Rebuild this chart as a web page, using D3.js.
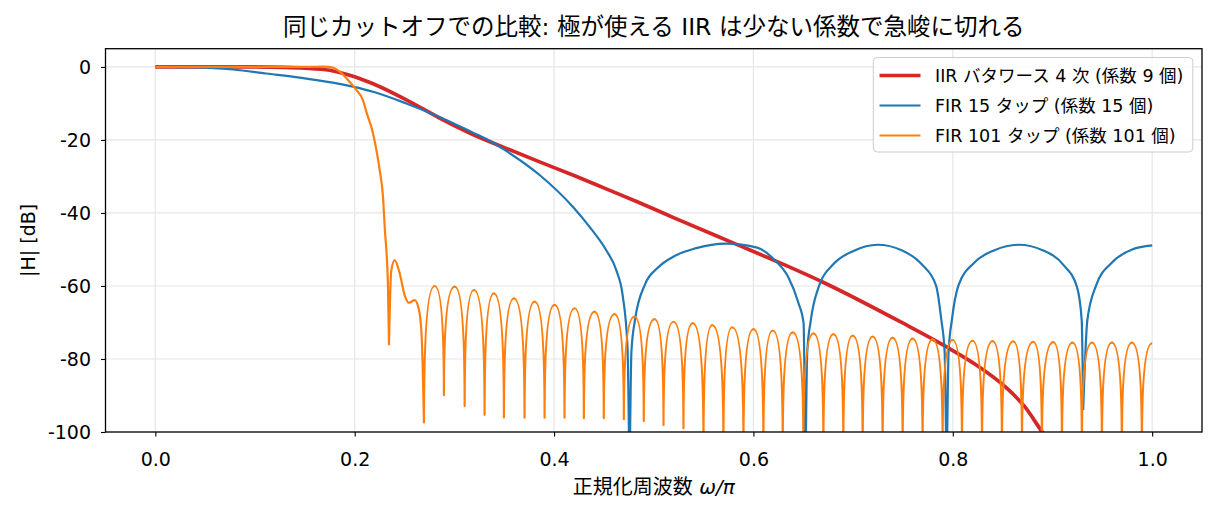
<!DOCTYPE html>
<html>
<head>
<meta charset="utf-8">
<script src="https://cdn.jsdelivr.net/npm/d3@7"></script>
<style>
    body { margin: 0; background: #fff; }
    svg text { font-family: "DejaVu Sans", "Noto Sans CJK JP", sans-serif; fill: #000; }
</style>
</head>
<body>
<svg id="chart" width="1217" height="512"></svg>
<script>
// values (x = omega/pi, y = dB)
const xTicks = [0, 0.2, 0.4, 0.6, 0.8, 1.0];
const yTicks = [0, -20, -40, -60, -80, -100];

// IIR butterworth, 4th order
const iirX  = [0, 0.05, 0.1, 0.13, 0.15, 0.175, 0.185, 0.2, 0.212, 0.2184, 0.2518, 0.2852, 0.3186, 0.352, 0.3855, 0.4188, 0.4523, 0.4857, 0.521, 0.5795, 0.6244, 0.6693, 0.7487, 0.7938, 0.8199, 0.8533, 0.872, 0.8884, 0.9];
const iirDb = [0, 0, 0, -0.1, -0.3, -0.9, -1.5, -2.7, -3.9, -4.6, -9.0, -14.0, -18.5, -22.3, -26.0, -29.6, -33.4, -37.2, -41.4, -48.2, -53.4, -58.9, -70.0, -76.7, -81.0, -87.8, -93.0, -99.5, -104];

// FIR 15 taps (nulls split the curve)
const fir15X  = [0, 0.045, 0.078, 0.1115, 0.145, 0.178, 0.198, 0.2184, 0.2518, 0.2852, 0.3186, 0.3353, 0.352, 0.3855, 0.4188, 0.4356, 0.4523, 0.4623, 0.469, 0.4737, 0.4757,
                 0.4776, 0.4812, 0.4915, 0.5037, 0.5209, 0.5416, 0.5726, 0.6037, 0.621, 0.6348, 0.6451, 0.6503, 0.6521,
                 0.654, 0.6576, 0.6659, 0.6796, 0.7004, 0.7245, 0.7487, 0.7693, 0.7832, 0.7885, 0.7918, 0.7938,
                 0.7958, 0.7991, 0.8056, 0.8212, 0.8418, 0.866, 0.8901, 0.9109, 0.9246, 0.9293, 0.9308,
                 0.935, 0.9437, 0.9592, 0.9799, 1.0];
const fir15Db = [0, -0.1, -0.7, -1.8, -2.9, -4.3, -5.4, -6.8, -10.0, -13.7, -18.0, -20.2, -23.0, -29.6, -38.3, -43.8, -50.2, -55.6, -62.9, -77, -115,
                 -78, -69.3, -59.4, -55.1, -51.8, -49.7, -48.4, -49.5, -52.8, -57.5, -64.6, -70.2, -115,
                 -78, -69.3, -59.9, -54.2, -50.4, -48.7, -50.2, -54.2, -59.9, -69.3, -78, -115,
                 -78, -69.3, -59.9, -53.7, -50.2, -48.7, -50.2, -54.2, -60.3, -69.3, -94,
                 -69.3, -59.9, -53.7, -50.0, -48.9];
const fir15Nulls = [0.4757, 0.6521, 0.7938, 0.9308];

// FIR 101 taps: passband + transition, first odd sidelobe, then regular sidelobes
const fir101StartX  = [0, 0.05, 0.1, 0.15, 0.17, 0.178, 0.185, 0.195, 0.2017, 0.2083, 0.2117, 0.2184, 0.2218, 0.2251, 0.2284, 0.2301, 0.2334, 0.2344];
const fir101StartDb = [0, 0, 0, 0, 0.1, -0.2, -1.3, -4.1, -6.3, -9.1, -12.3, -18.2, -22.8, -28.3, -35.6, -43.8, -60.2, -76.2];
const fir101Lobe1X  = [0.2344, 0.2366, 0.2401, 0.2451, 0.2501, 0.2544, 0.2601, 0.2645, 0.2672, 0.2695];
const fir101Lobe1Db = [-76.2, -56, -52.9, -56.5, -62.5, -64.6, -63.9, -66.6, -73.9, -97.6];
const fir101NullX  = [0.2695, 0.2895, 0.3103, 0.3303, 0.3497, 0.3704, 0.3905, 0.4105, 0.4299, 0.4499,
                      0.47, 0.49, 0.5098, 0.5298, 0.5499, 0.5699, 0.59, 0.61, 0.6294, 0.6501,
                      0.6702, 0.6902, 0.7096, 0.7296, 0.7497, 0.7697, 0.7898, 0.8092, 0.8293, 0.8493,
                      0.8694, 0.8894, 0.9095, 0.9295, 0.9496, 0.9696, 0.9897];
const fir101NullDb = [-97.6, -89.9, -92.9, -95.3, -96.0, -96.1, -96.1, -96.1, -96.2, -96.2,
                      -96.5, -97.0, -98.1, -99.0, -104, -104, -104, -104, -104, -104,
                      -104, -104, -104, -104, -104, -104, -104, -104, -104, -104,
                      -104, -104, -104, -104, -104, -104, -104];
const fir101PeakX  = [0.2802, 0.3003, 0.3196, 0.3396, 0.3597, 0.3805, 0.4005, 0.4206, 0.4406, 0.4607,
                      0.4807, 0.5008, 0.5198, 0.5391, 0.5586, 0.5786, 0.6, 0.6194, 0.6394, 0.6602,
                      0.6802, 0.6996, 0.7196, 0.7396, 0.7597, 0.7797, 0.7998, 0.8198, 0.8399, 0.8607,
                      0.8807, 0.9008, 0.9201, 0.9396, 0.9596, 0.9797, 1.0];
const fir101PeakDb = [-60.0, -60.2, -61.1, -62.0, -63.4, -64.3, -65.2, -66.1, -67.0, -67.7,
                      -68.4, -69.1, -69.8, -70.2, -70.7, -71.3, -71.8, -72.2, -72.7, -73.0,
                      -73.2, -73.6, -73.9, -74.2, -74.4, -74.6, -74.8, -75.0, -75.1, -75.2,
                      -75.3, -75.4, -75.5, -75.5, -75.5, -75.5, -75.7];

const legendNames = ["IIR バタワース 4 次 (係数 9 個)", "FIR 15 タップ (係数 15 個)", "FIR 101 タップ (係数 101 個)"];
const colors = ["#d62728", "#1f77b4", "#ff7f0e"];
const widths = [3.7, 2.2, 2.2];

const zip = (xs, ys) => xs.map((x, i) => [x, ys[i]]);

// plot box
const plotL = 105.5, plotR = 1202, plotT = 48.7, plotB = 432;
const svg = d3.select("#chart");

const x = d3.scaleLinear().domain([-0.05, 1.05]).range([plotL, plotR]);
const y = d3.scaleLinear().domain([-100, 5]).range([plotB, plotT]);

// clip
svg.append("defs").append("clipPath").attr("id", "plotclip")
    .append("rect").attr("x", plotL).attr("y", plotT).attr("width", plotR - plotL).attr("height", plotB - plotT);

// grid
const grid = svg.append("g");
grid.selectAll(".gx").data(xTicks).join("line")
    .attr("x1", d => x(d)).attr("x2", d => x(d)).attr("y1", plotT).attr("y2", plotB)
    .attr("stroke", "#e6e6e6").attr("stroke-width", 1.2);
grid.selectAll(".gy").data(yTicks).join("line")
    .attr("x1", plotL).attr("x2", plotR).attr("y1", d => y(d)).attr("y2", d => y(d))
    .attr("stroke", "#e6e6e6").attr("stroke-width", 1.2);

// arch curve: the control point takes x of the lower point and y of the higher one,
// so nulls come out as sharp spikes and peaks stay round
function curveArch(context) {
    let px, py, n;
    return {
        areaStart() {}, areaEnd() {},
        lineStart() { n = 0; },
        lineEnd() {},
        point(cx, cy) {
            cx = +cx; cy = +cy;
            if (n === 0) context.moveTo(cx, cy);
            else if (cy < py) context.quadraticCurveTo(px, cy, cx, cy);
            else context.quadraticCurveTo(cx, py, cx, cy);
            px = cx; py = cy; n++;
        }
    };
}

const lineMono = d3.line().x(d => x(d[0])).y(d => y(d[1])).curve(d3.curveMonotoneX);
const lineArch = d3.line().x(d => x(d[0])).y(d => y(d[1])).curve(curveArch);

// split a series at its nulls so each null stays a sharp point
function splitAtNulls(pts, nulls) {
    const segs = [];
    let cur = [];
    pts.forEach(p => {
        cur.push(p);
        if (nulls.includes(p[0])) { segs.push(cur); cur = [p]; }
    });
    if (cur.length > 1) segs.push(cur);
    return segs;
}

const plot = svg.append("g").attr("clip-path", "url(#plotclip)");

// FIR 101 sidelobes: null, peak, null, peak ...
const lobePts = [];
fir101NullX.forEach((nx, i) => {
    lobePts.push([nx, fir101NullDb[i]]);
    if (i < fir101PeakX.length) lobePts.push([fir101PeakX[i], fir101PeakDb[i]]);
});
const fir101D = lineMono(zip(fir101StartX, fir101StartDb)) +
    lineMono(zip(fir101Lobe1X, fir101Lobe1Db)) + lineArch(lobePts);

const fir15D = splitAtNulls(zip(fir15X, fir15Db), fir15Nulls).map(s => lineMono(s)).join("");
const iirD = lineMono(zip(iirX, iirDb));

// draw order: IIR, FIR15, FIR101
[iirD, fir15D, fir101D].forEach((d, i) => {
    plot.append("path").attr("d", d).attr("fill", "none")
        .attr("stroke", colors[i]).attr("stroke-width", widths[i])
        .attr("stroke-linejoin", "round").attr("stroke-linecap", "butt");
});

// axes
const fs = 19;
const xAxis = svg.append("g").attr("transform", `translate(0,${plotB})`)
    .call(d3.axisBottom(x).tickValues(xTicks).tickFormat(d3.format(".1f")).tickSize(4.5).tickSizeOuter(0));
xAxis.select(".domain").remove();
xAxis.selectAll("line").attr("stroke", "#000").attr("stroke-width", 1.1);
xAxis.selectAll("text").attr("y", 20.5).attr("dy", "0.72em").style("font-size", fs + "px")
    .style("font-family", '"DejaVu Sans", sans-serif');

const yAxis = svg.append("g").attr("transform", `translate(${plotL},0)`)
    .call(d3.axisLeft(y).tickValues(yTicks).tickFormat(d => String(d)).tickSize(4.5).tickSizeOuter(0));
yAxis.select(".domain").remove();
yAxis.selectAll("line").attr("stroke", "#000").attr("stroke-width", 1.1);
yAxis.selectAll("text").attr("x", -14.5).attr("dy", "0.36em").style("font-size", fs + "px")
    .style("font-family", '"DejaVu Sans", sans-serif');

// frame
svg.append("rect").attr("x", plotL).attr("y", plotT).attr("width", plotR - plotL).attr("height", plotB - plotT)
    .attr("fill", "none").attr("stroke", "#000").attr("stroke-width", 1.3);

// labels
svg.append("text").attr("x", (plotL + plotR) / 2).attr("y", 27).attr("text-anchor", "middle")
    .attr("dominant-baseline", "central").style("font-size", "23.5px")
    .text("同じカットオフでの比較: 極が使える IIR は少ない係数で急峻に切れる");

const xl = svg.append("text").attr("x", (plotL + plotR) / 2).attr("y", 487).attr("text-anchor", "middle")
    .attr("dominant-baseline", "central").style("font-size", "20px");
xl.append("tspan").text("正規化周波数 ");
xl.append("tspan").style("font-style", "italic").text("ω/π");

svg.append("text").attr("transform", `translate(28,${(plotT + plotB) / 2}) rotate(-90)`)
    .attr("text-anchor", "middle").attr("dominant-baseline", "central").style("font-size", fs + "px")
    .text("|H| [dB]");

// legend
const lg = svg.append("g");
lg.append("rect").attr("x", 873.3).attr("y", 57.5).attr("width", 319.5).attr("height", 94.5)
    .attr("rx", 4).attr("fill", "#fff").attr("fill-opacity", 0.8).attr("stroke", "#cccccc").attr("stroke-width", 1);
legendNames.forEach((name, i) => {
    const ry = 75.5 + i * 30;
    lg.append("line").attr("x1", 879.5).attr("x2", 920.5).attr("y1", ry).attr("y2", ry)
        .attr("stroke", colors[i]).attr("stroke-width", widths[i]);
    lg.append("text").attr("x", 935).attr("y", ry).attr("dominant-baseline", "central")
        .style("font-size", "17.5px").text(name);
});
</script>
</body>
</html>
